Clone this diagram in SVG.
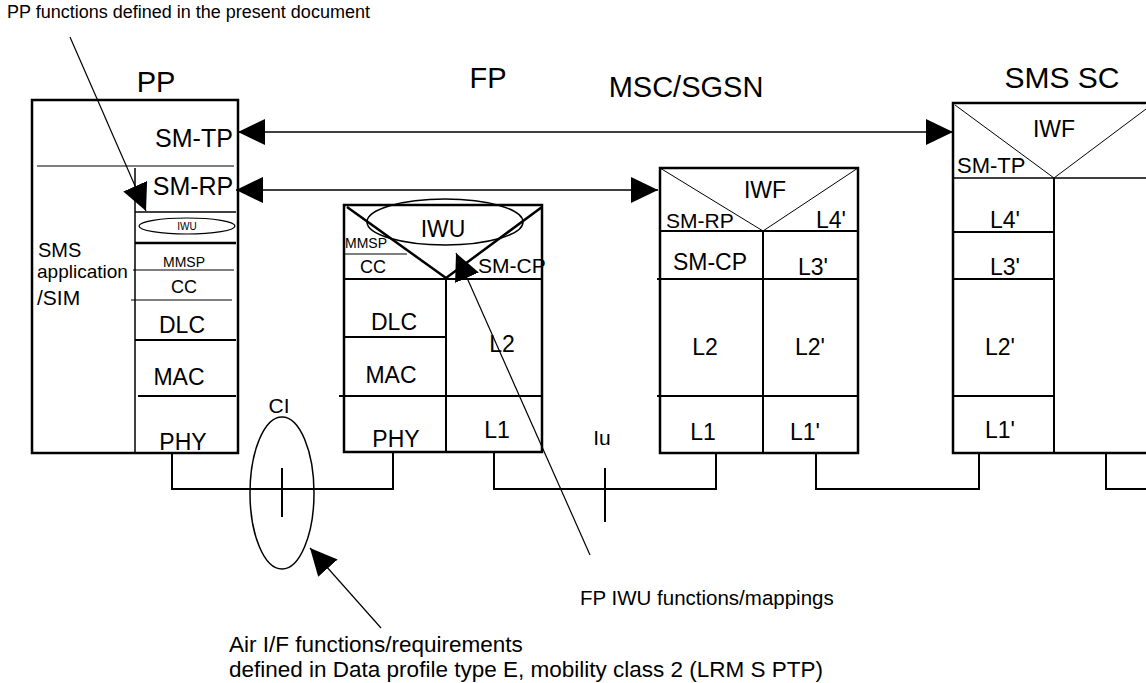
<svg xmlns="http://www.w3.org/2000/svg" width="1146" height="683" viewBox="0 0 1146 683">
<style>
text { font-family: "Liberation Sans", Arial, sans-serif; fill: #000; }
.title { font-size: 29px; text-anchor: middle; }
.lbl { font-size: 23px; text-anchor: middle; }
.note { font-size: 20px; }
.box { fill: none; stroke: #000; stroke-width: 2.5; }
.ln { stroke: #000; stroke-width: 2; fill: none; }
.thin { stroke: #000; stroke-width: 1.2; fill: none; }
.conn { stroke: #000; stroke-width: 2; fill: none; }
.lead { stroke: #000; stroke-width: 1.2; fill: none; }
.arr { stroke: #000; stroke-width: 1.5; fill: none; }
</style>
<defs>
<marker id="ah" viewBox="0 0 10 10" refX="10" refY="5" markerUnits="userSpaceOnUse" markerWidth="27" markerHeight="26" orient="auto-start-reverse" preserveAspectRatio="none">
<path d="M0,0 L10,5 L0,10 z" fill="#000"/>
</marker>
</defs>
<rect width="1146" height="683" fill="#fff"/>

<g id="pp">
<text class="title" x="156" y="92">PP</text>
<rect class="box" x="32" y="100" width="206" height="353"/>
<line class="thin" x1="37" y1="166" x2="234" y2="166"/>
<line class="ln" x1="135" y1="168" x2="135" y2="453" style="stroke-width:1.5"/>
<line class="ln" x1="135" y1="212" x2="236" y2="212" style="stroke-width:1.5"/>
<ellipse class="thin" cx="187" cy="226" rx="48" ry="8"/>
<text x="187" y="230" font-size="10" text-anchor="middle">IWU</text>
<line class="ln" x1="135" y1="243" x2="236" y2="243" style="stroke-width:2.5"/>
<text x="184" y="267" font-size="14" text-anchor="middle">MMSP</text>
<line class="thin" x1="133" y1="270" x2="234" y2="270"/>
<text x="184" y="293" font-size="18" text-anchor="middle">CC</text>
<line class="thin" x1="131" y1="300" x2="232" y2="300"/>
<text class="lbl" x="182" y="333">DLC</text>
<line class="ln" x1="135" y1="340" x2="236" y2="340"/>
<text class="lbl" x="179" y="385">MAC</text>
<line class="ln" x1="138" y1="396" x2="236" y2="396"/>
<text class="lbl" x="183" y="450">PHY</text>
<text class="lbl" x="194" y="147" style="font-size:25px">SM-TP</text>
<text class="lbl" x="193" y="195" style="font-size:25px">SM-RP</text>
<text x="38" y="257" font-size="20">SMS</text>
<text x="37" y="278" font-size="19">application</text>
<text x="37" y="305" font-size="21">/SIM</text>
</g>

<g id="fp">
<text class="title" x="488" y="88">FP</text>
<rect class="box" x="344" y="205" width="198" height="247"/>
<polyline class="ln" points="347,207 446,278 542,207" style="stroke-width:2.5"/>
<line class="ln" x1="344" y1="279" x2="542" y2="279"/>
<line class="ln" x1="446" y1="279" x2="446" y2="452"/>
<ellipse class="ln" cx="445" cy="222" rx="78" ry="23" style="stroke-width:1.5"/>
<text class="lbl" x="443" y="237">IWU</text>
<text x="345" y="248" font-size="14">MMSP</text>
<line class="thin" x1="344" y1="254" x2="407" y2="254"/>
<text x="373" y="273" font-size="18" text-anchor="middle">CC</text>
<text x="478" y="273" font-size="21">SM-CP</text>
<text class="lbl" x="394" y="330">DLC</text>
<line class="ln" x1="344" y1="337" x2="446" y2="337"/>
<text class="lbl" x="502" y="352">L2</text>
<text class="lbl" x="391" y="383">MAC</text>
<line class="ln" x1="339" y1="396" x2="542" y2="396"/>
<text class="lbl" x="396" y="447">PHY</text>
<text class="lbl" x="497" y="438">L1</text>
</g>

<g id="msc">
<text class="title" x="686" y="97">MSC/SGSN</text>
<rect class="box" x="660" y="168" width="198" height="285"/>
<polyline class="thin" points="660,168 763,231 858,168" style="stroke-width:1"/>
<line class="ln" x1="660" y1="231" x2="858" y2="231"/>
<line class="ln" x1="763" y1="231" x2="763" y2="453"/>
<line class="ln" x1="657" y1="279" x2="858" y2="279"/>
<line class="ln" x1="657" y1="396" x2="858" y2="396"/>
<text class="lbl" x="765" y="198">IWF</text>
<text x="666" y="228" font-size="21">SM-RP</text>
<text class="lbl" x="831" y="228">L4'</text>
<text class="lbl" x="710" y="270">SM-CP</text>
<text class="lbl" x="813" y="275">L3'</text>
<text class="lbl" x="705" y="355">L2</text>
<text class="lbl" x="810" y="355">L2'</text>
<text class="lbl" x="703" y="440">L1</text>
<text class="lbl" x="805" y="440">L1'</text>
</g>

<g id="smssc">
<text class="title" x="1062" y="88" style="font-size:30px">SMS SC</text>
<rect class="box" x="953" y="103" width="200" height="350"/>
<polyline class="thin" points="955,105 1054,178 1150,106" style="stroke-width:1"/>
<line class="thin" x1="953" y1="178" x2="1146" y2="178" style="stroke-width:1.5"/>
<line class="ln" x1="1054" y1="178" x2="1054" y2="453"/>
<line class="ln" x1="952" y1="232" x2="1054" y2="232"/>
<line class="ln" x1="952" y1="279" x2="1054" y2="279"/>
<line class="ln" x1="952" y1="396" x2="1054" y2="396"/>
<text class="lbl" x="1054" y="137">IWF</text>
<text x="957" y="173" font-size="22">SM-TP</text>
<text class="lbl" x="1005" y="228">L4'</text>
<text class="lbl" x="1005" y="275">L3'</text>
<text class="lbl" x="1000" y="355">L2'</text>
<text class="lbl" x="1000" y="438">L1'</text>
</g>

<g id="connectors">
<polyline class="conn" points="172,453 172,489 393,489 393,453"/>
<polyline class="conn" points="494,453 494,489 716,489 716,453"/>
<polyline class="conn" points="816,453 816,489 979,489 979,453"/>
<polyline class="conn" points="1106,453 1106,489 1146,489"/>
<line class="conn" x1="282" y1="468" x2="282" y2="517"/>
<line class="conn" x1="605" y1="468" x2="605" y2="522"/>
<line class="arr" x1="238" y1="132" x2="953" y2="132" marker-start="url(#ah)" marker-end="url(#ah)"/>
<line class="arr" x1="236" y1="190" x2="658" y2="190" marker-start="url(#ah)" marker-end="url(#ah)"/>
<line class="lead" x1="70" y1="37" x2="146" y2="211" marker-end="url(#ah)"/>
<line class="lead" x1="590" y1="555" x2="456" y2="253" marker-end="url(#ah)"/>
<line class="lead" x1="381" y1="628" x2="310" y2="548" marker-end="url(#ah)"/>
</g>

<g id="ci">
<ellipse class="thin" cx="282" cy="493" rx="32" ry="76" style="stroke-width:1.5"/>
<text x="279" y="413" font-size="21" text-anchor="middle">CI</text>
</g>
<g id="iu">
<text x="602" y="445" font-size="21" text-anchor="middle">Iu</text>
</g>

<g id="notes">
<text class="note" x="7" y="18" style="font-size:18px">PP functions defined in the present document</text>
<text class="note" x="580" y="605" style="font-size:20.5px">FP IWU functions/mappings</text>
<text class="note" x="229" y="652" style="font-size:22.5px">Air I/F functions/requirements</text>
<text class="note" x="229" y="677" style="font-size:22.5px">defined in Data profile type E, mobility class 2 (LRM S PTP)</text>
</g>
</svg>
